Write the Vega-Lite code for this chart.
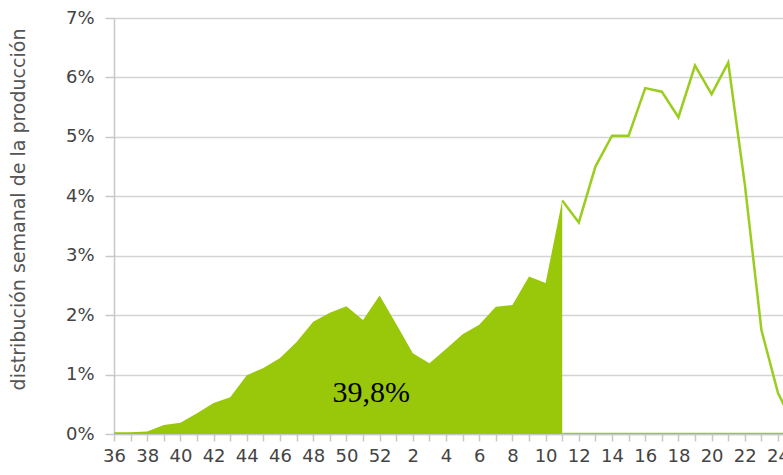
{
  "$schema": "https://vega.github.io/schema/vega-lite/v6.json",
  "width": 669,
  "height": 416,
  "autosize": {"type": "none"},
  "padding": {"left": 114, "top": 18, "right": 0, "bottom": 41},
  "background": "white",
  "config": {
    "view": {"stroke": null},
    "font": "DejaVu Sans",
    "axis": {"labelFont": "DejaVu Sans", "titleFont": "DejaVu Sans", "labelOverlap": false}
  },
  "resolve": {"axis": {"x": "independent"}},
  "datasets": {
    "series": [
      {"serie": "area", "semana": "36", "t": 0, "v": 0.0003},
      {"serie": "area", "semana": "37", "t": 1, "v": 0.0003},
      {"serie": "area", "semana": "38", "t": 2, "v": 0.0004},
      {"serie": "area", "semana": "39", "t": 3, "v": 0.0015},
      {"serie": "area", "semana": "40", "t": 4, "v": 0.0019},
      {"serie": "area", "semana": "41", "t": 5, "v": 0.0035},
      {"serie": "area", "semana": "42", "t": 6, "v": 0.0052},
      {"serie": "area", "semana": "43", "t": 7, "v": 0.0062},
      {"serie": "area", "semana": "44", "t": 8, "v": 0.0099},
      {"serie": "area", "semana": "45", "t": 9, "v": 0.0111},
      {"serie": "area", "semana": "46", "t": 10, "v": 0.0128},
      {"serie": "area", "semana": "47", "t": 11, "v": 0.0155},
      {"serie": "area", "semana": "48", "t": 12, "v": 0.0189},
      {"serie": "area", "semana": "49", "t": 13, "v": 0.0204},
      {"serie": "area", "semana": "50", "t": 14, "v": 0.0215},
      {"serie": "area", "semana": "51", "t": 15, "v": 0.0192},
      {"serie": "area", "semana": "52", "t": 16, "v": 0.0233},
      {"serie": "area", "semana": "1", "t": 17, "v": 0.0185},
      {"serie": "area", "semana": "2", "t": 18, "v": 0.0136},
      {"serie": "area", "semana": "3", "t": 19, "v": 0.0119},
      {"serie": "area", "semana": "4", "t": 20, "v": 0.0143},
      {"serie": "area", "semana": "5", "t": 21, "v": 0.0168},
      {"serie": "area", "semana": "6", "t": 22, "v": 0.0184},
      {"serie": "area", "semana": "7", "t": 23, "v": 0.0214},
      {"serie": "area", "semana": "8", "t": 24, "v": 0.0217},
      {"serie": "area", "semana": "9", "t": 25, "v": 0.0265},
      {"serie": "area", "semana": "10", "t": 26, "v": 0.0254},
      {"serie": "area", "semana": "11", "t": 27, "v": 0.0393},
      {"serie": "linea", "semana": "11", "t": 27, "v": 0.0393},
      {"serie": "linea", "semana": "12", "t": 28, "v": 0.0356},
      {"serie": "linea", "semana": "13", "t": 29, "v": 0.045},
      {"serie": "linea", "semana": "14", "t": 30, "v": 0.0502},
      {"serie": "linea", "semana": "15", "t": 31, "v": 0.0502},
      {"serie": "linea", "semana": "16", "t": 32, "v": 0.0582},
      {"serie": "linea", "semana": "17", "t": 33, "v": 0.0576},
      {"serie": "linea", "semana": "18", "t": 34, "v": 0.0533},
      {"serie": "linea", "semana": "19", "t": 35, "v": 0.062},
      {"serie": "linea", "semana": "20", "t": 36, "v": 0.0572},
      {"serie": "linea", "semana": "21", "t": 37, "v": 0.0625},
      {"serie": "linea", "semana": "22", "t": 38, "v": 0.042},
      {"serie": "linea", "semana": "23", "t": 39, "v": 0.0175},
      {"serie": "linea", "semana": "24", "t": 40, "v": 0.0069},
      {"serie": "linea", "semana": "25", "t": 41, "v": 0.0012},
      {"serie": "cero", "semana": "11", "t": 27, "v": 0},
      {"serie": "cero", "semana": "25", "t": 41, "v": 0}
    ],
    "etiqueta": [
      {"t": 15.5, "v": 0.0069, "texto": "39,8%"}
    ]
  },
  "layer": [
    {
      "data": {"name": "series"},
      "transform": [{"filter": "datum.serie == 'area'"}],
      "mark": {"type": "area", "color": "#99c70a", "opacity": 1, "clip": true},
      "encoding": {
        "x": {
          "field": "t", "type": "quantitative",
          "scale": {"domain": [0, 40.3], "nice": false, "zero": false},
          "axis": {
            "orient": "bottom",
            "title": null,
            "values": [0,2,4,6,8,10,12,14,16,18,20,22,24,26,28,30,32,34,36,38,40],
            "labelExpr": "datum.value <= 16 ? datum.value + 36 : datum.value - 16",
            "grid": false,
            "domain": true,
            "domainColor": "#c8c8c8",
            "domainWidth": 1.5,
            "tickColor": "#c8c8c8",
            "tickWidth": 1.5,
            "tickSize": 7,
            "labelFontSize": 18,
            "labelColor": "#444444",
            "labelPadding": 6,
            "labelFlush": false,
            "labelOverlap": false,
            "labelBound": false
          }
        },
        "y": {
          "field": "v", "type": "quantitative",
          "scale": {"domain": [0, 0.07], "nice": false},
          "axis": {
            "title": "distribución semanal de la producción",
            "titleFontSize": 19,
            "titleFontWeight": "normal",
            "titleColor": "#555555",
            "titleX": -86,
            "titleY": 191,
            "format": ".0%",
            "values": [0, 0.01, 0.02, 0.03, 0.04, 0.05, 0.06, 0.07],
            "grid": true,
            "gridColor": "#d4d4d4",
            "gridWidth": 1.5,
            "domainColor": "#c8c8c8",
            "domainWidth": 1.5,
            "tickColor": "#c8c8c8",
            "tickWidth": 1.5,
            "tickSize": 9,
            "labelFontSize": 18,
            "labelColor": "#444444",
            "labelPadding": 11
          }
        }
      }
    },
    {
      "data": {"name": "series"},
      "transform": [{"filter": "datum.serie != 'area'"}],
      "mark": {"type": "line", "color": "#9acd1e", "strokeWidth": 2.5, "clip": true},
      "encoding": {
        "x": {
          "field": "t", "type": "quantitative",
          "axis": {
            "orient": "bottom",
            "title": null,
            "values": [1,3,5,7,9,11,13,15,17,19,21,23,25,27,29,31,33,35,37,39],
            "labels": false,
            "domain": false,
            "grid": false,
            "tickColor": "#c8c8c8",
            "tickWidth": 1.5,
            "tickSize": 7
          }
        },
        "y": {"field": "v", "type": "quantitative"},
        "detail": {"field": "serie"}
      }
    },
    {
      "data": {"name": "etiqueta"},
      "mark": {"type": "text", "font": "Liberation Serif", "fontSize": 30, "color": "#000000", "align": "center", "baseline": "middle"},
      "encoding": {
        "x": {"field": "t", "type": "quantitative", "axis": null},
        "y": {"field": "v", "type": "quantitative"},
        "text": {"field": "texto"}
      }
    }
  ]
}
